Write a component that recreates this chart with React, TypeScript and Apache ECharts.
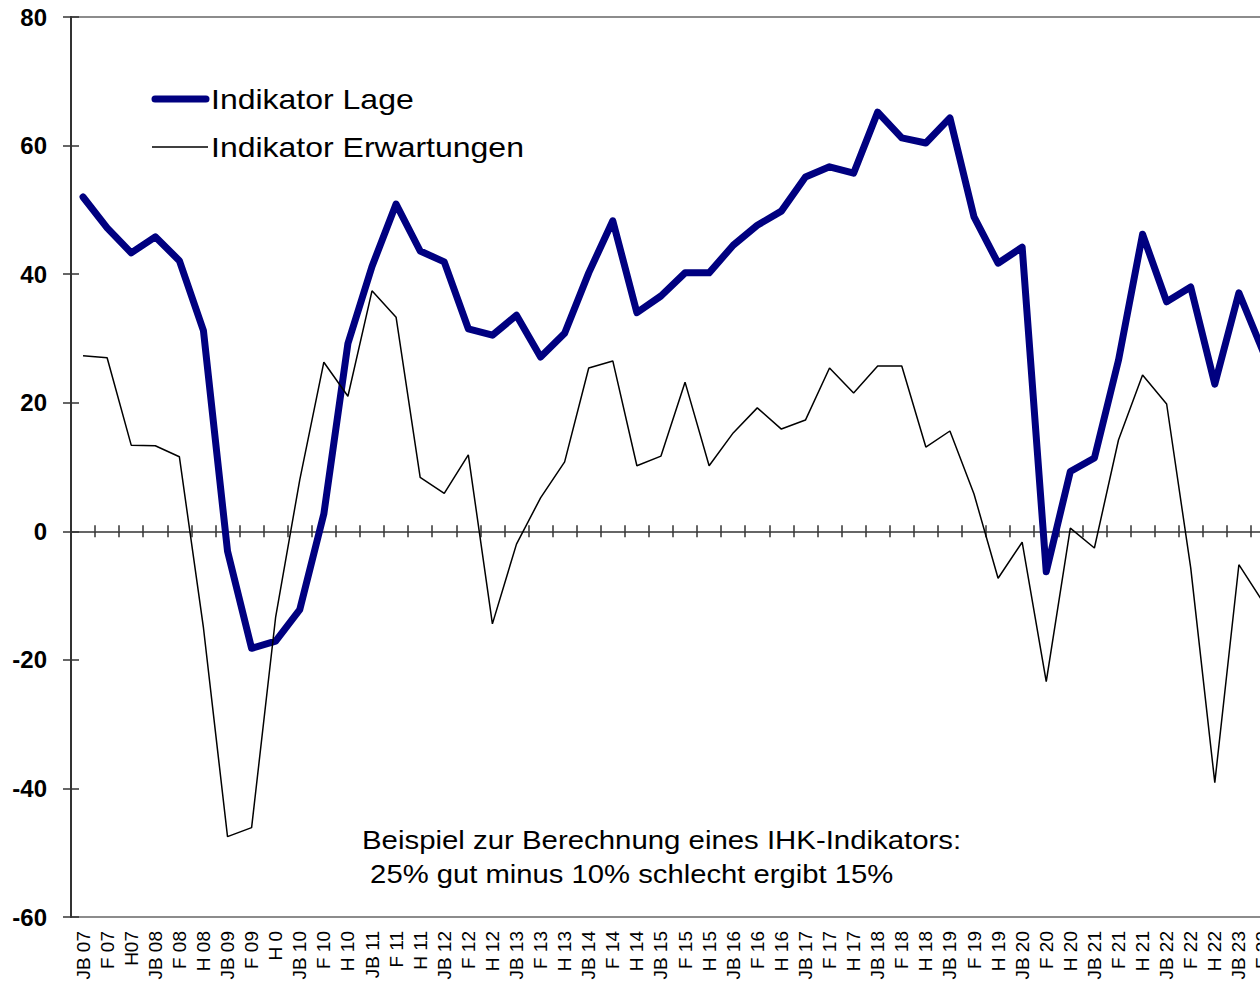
import React, { useEffect, useRef } from "react";
import * as echarts from "echarts";

const categories = [
  "JB 07", "F 07", "H07", "JB 08", "F 08", "H 08", "JB 09", "F 09", "H 0",
  "JB 10", "F 10", "H 10", "JB 11", "F 11", "H 11", "JB 12", "F 12", "H 12",
  "JB 13", "F 13", "H 13", "JB 14", "F 14", "H 14", "JB 15", "F 15", "H 15",
  "JB 16", "F 16", "H 16", "JB 17", "F 17", "H 17", "JB 18", "F 18", "H 18",
  "JB 19", "F 19", "H 19", "JB 20", "F 20", "H 20", "JB 21", "F 21", "H 21",
  "JB 22", "F 22", "H 22", "JB 23", "F 23",
];

const lage = [
  52.0, 47.2, 43.3, 45.8, 42.1, 31.2, -3.1, -18.2, -17.1,
  -12.2, 2.7, 29.2, 41.2, 50.9, 43.6, 41.9, 31.5, 30.5,
  33.6, 27.1, 30.8, 40.2, 48.3, 34.0, 36.6, 40.2, 40.2,
  44.5, 47.6, 49.8, 55.1, 56.7, 55.7, 65.2, 61.2, 60.4,
  64.3, 48.9, 41.7, 44.2, -6.3, 9.3, 11.4, 26.6, 46.2,
  35.7, 38.0, 22.9, 37.1, 28.0,
];

const erwartungen = [
  27.3, 27.0, 13.4, 13.3, 11.6, -15.0, -47.5, -46.1, -13.3,
  8.0, 26.3, 21.0, 37.4, 33.3, 8.4, 5.9, 11.9, -14.4,
  -2.0, 5.2, 10.8, 25.4, 26.5, 10.2, 11.7, 23.2, 10.2,
  15.3, 19.2, 15.9, 17.3, 25.4, 21.5, 25.7, 25.7, 13.1,
  15.6, 5.8, -7.3, -1.7, -23.4, 0.5, -2.6, 14.2, 24.3,
  19.8, -5.7, -39.1, -5.2, -11.0,
];

const seriesNames = ["Indikator Lage", "Indikator Erwartungen"];
const noteLines = [
  "Beispiel zur Berechnung eines IHK-Indikators:",
  " 25% gut minus 10% schlecht ergibt 15%",
];

const FONT = 'Arial, "Liberation Sans", sans-serif';

export default function App() {
  const ref = useRef<HTMLDivElement>(null);

  useEffect(() => {
    if (!ref.current) return;
    const chart = echarts.init(ref.current, undefined, { renderer: "svg" });
    const axisColor = "#333";
    const hiddenCat = {
      type: "category",
      data: categories,
      boundaryGap: true,
      axisLabel: { show: false },
      splitLine: { show: false },
    };
    chart.setOption({
      animation: false,
      backgroundColor: "#ffffff",
      grid: {
        left: 71,
        top: 17,
        bottom: 70,
        right: 0,
        show: true,
        borderColor: "#8c8c8c",
        borderWidth: 2,
        backgroundColor: "transparent",
      },
      xAxis: [
        {
          type: "category",
          data: categories,
          boundaryGap: true,
          position: "bottom",
          axisLine: { show: false, onZero: false },
          axisTick: { show: false },
          axisLabel: {
            rotate: 90,
            interval: 0,
            margin: 14,
            fontSize: 19,
            fontFamily: FONT,
            color: "#000",
          },
          splitLine: { show: false },
        },
        {
          ...hiddenCat,
          axisLine: { show: true, onZero: true, lineStyle: { color: axisColor, width: 1.5 } },
          axisTick: { show: true, interval: 0, inside: false, length: 6, lineStyle: { color: axisColor, width: 1.5 } },
        },
        {
          ...hiddenCat,
          axisLine: { show: false, onZero: true },
          axisTick: { show: true, interval: 0, inside: true, length: 6, lineStyle: { color: axisColor, width: 1.5 } },
        },
      ],
      yAxis: [
        {
          type: "value",
          min: -60,
          max: 80,
          interval: 20,
          axisLine: { show: true, lineStyle: { color: axisColor, width: 2 } },
          axisTick: { show: true, length: 8, lineStyle: { color: axisColor, width: 1.5 } },
          axisLabel: {
            margin: 24,
            fontSize: 24,
            fontWeight: "bold",
            fontFamily: FONT,
            color: "#000",
          },
          splitLine: { show: false },
        },
        {
          type: "value",
          min: -60,
          max: 80,
          interval: 20,
          position: "left",
          axisLine: { show: false },
          axisTick: { show: true, inside: true, length: 8, lineStyle: { color: axisColor, width: 1.5 } },
          axisLabel: { show: false },
          splitLine: { show: false },
        },
      ],
      series: [
        {
          name: seriesNames[0],
          type: "line",
          data: lage,
          symbol: "none",
          lineStyle: { color: "#000080", width: 7, cap: "round", join: "round" },
          z: 3,
        },
        {
          name: seriesNames[1],
          type: "line",
          data: erwartungen,
          symbol: "none",
          lineStyle: { color: "#000000", width: 1.5 },
          z: 4,
        },
      ],
      graphic: [
        {
          type: "line",
          shape: { x1: 155, y1: 99, x2: 206, y2: 99 },
          style: { stroke: "#000080", lineWidth: 7, lineCap: "round" },
        },
        {
          type: "text",
          x: 211,
          y: 99,
          scaleX: 1.185,
          style: {
            text: seriesNames[0],
            fontSize: 27,
            fontFamily: FONT,
            fill: "#000",
            verticalAlign: "middle",
          },
        },
        {
          type: "line",
          shape: { x1: 152, y1: 147, x2: 208, y2: 147 },
          style: { stroke: "#000", lineWidth: 1.5 },
        },
        {
          type: "text",
          x: 211,
          y: 147,
          scaleX: 1.185,
          style: {
            text: seriesNames[1],
            fontSize: 27,
            fontFamily: FONT,
            fill: "#000",
            verticalAlign: "middle",
          },
        },
        {
          type: "text",
          x: 362,
          y: 840,
          scaleX: 1.13,
          style: {
            text: noteLines[0],
            fontSize: 26,
            fontFamily: FONT,
            fill: "#000",
            verticalAlign: "middle",
          },
        },
        {
          type: "text",
          x: 362,
          y: 874,
          scaleX: 1.125,
          style: {
            text: noteLines[1],
            fontSize: 26,
            fontFamily: FONT,
            fill: "#000",
            verticalAlign: "middle",
          },
        },
      ],
    });
    return () => chart.dispose();
  }, []);

  return (
    <div
      style={{
        position: "fixed",
        left: 0,
        top: 0,
        width: 1260,
        height: 987,
        overflow: "hidden",
        background: "#fff",
      }}
    >
      <div ref={ref} style={{ width: 1275, height: 987 }} />
    </div>
  );
}
